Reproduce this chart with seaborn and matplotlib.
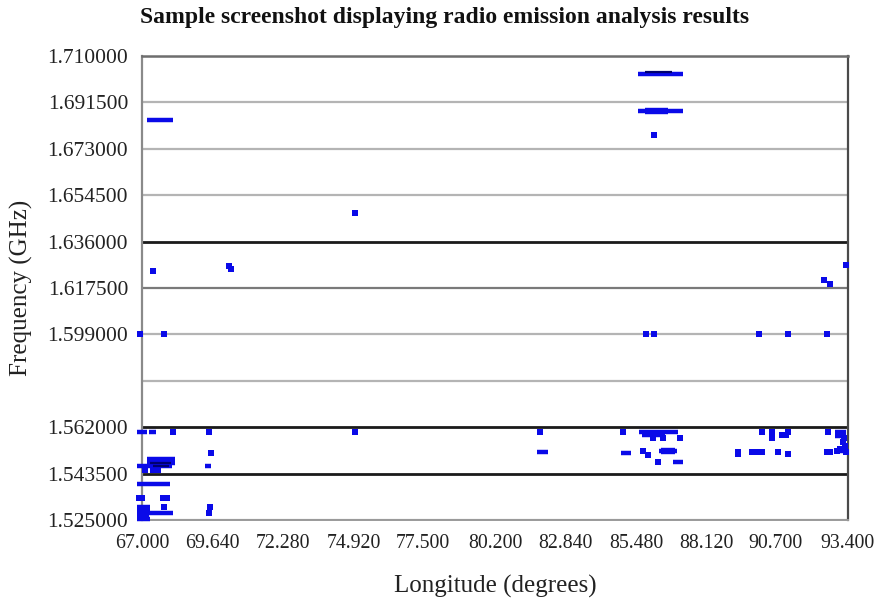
import matplotlib
matplotlib.use("Agg")
import matplotlib.pyplot as plt
import seaborn as sns
import pandas as pd

# ---- data -------------------------------------------------------------
x_ticks = [67.000, 69.640, 72.280, 74.920, 77.500, 80.200, 82.840, 85.480, 88.120, 90.700, 93.400]
y_ticks = [1.525, 1.5435, 1.562, 1.5805, 1.599, 1.6175, 1.636, 1.6545, 1.673, 1.6915, 1.710]
y_labels = ["1.525000", "1.543500", "1.562000", "", "1.599000", "1.617500",
            "1.636000", "1.654500", "1.673000", "1.691500", "1.710000"]

# horizontal emission tracks: start longitude, end longitude, frequency
seg_x0 = [67.19, 85.55, 85.55, 85.59, 85.70, 84.91, 86.33, 86.86, 81.77,
          67.19, 67.19, 66.81, 69.36, 66.81, 66.81, 66.81, 66.81, 66.81,
          66.81, 67.26, 92.91, 92.91, 92.91, 66.81, 66.81]
seg_x1 = [68.16, 87.23, 87.23, 87.04, 86.56, 85.28, 87.00, 87.23, 82.18,
          68.23, 68.23, 68.12, 69.58, 68.05, 67.30, 68.16, 67.19, 67.30,
          67.19, 67.52, 93.33, 93.33, 93.33, 67.30, 67.25]
seg_y = [1.6845, 1.7028, 1.6881, 1.5601, 1.5589, 1.5517, 1.5525, 1.5481, 1.5521,
         1.5493, 1.5479, 1.5465, 1.5465, 1.5394, 1.5302, 1.5278, 1.5262, 1.5254,
         1.5601, 1.5601, 1.5601, 1.5585, 1.5525, 1.5290, 1.5270]

# darker / thicker (overlapping) tracks
dark_x0 = [85.81, 67.40, 67.30]
dark_x1 = [86.82, 68.00, 68.10]
dark_y = [1.7036, 1.5465, 1.5479]
thick_x0 = [85.81, 86.40]
thick_x1 = [86.67, 86.95]
thick_y = [1.6881, 1.5525]

# isolated detections
dot_x = [74.97, 86.15, 67.41, 70.25, 70.33, 66.93, 67.82, 85.85, 86.15, 90.07,
         91.16, 92.62, 93.33, 92.50, 92.72, 68.16, 69.50, 74.97, 81.88, 85.00,
         69.58, 67.11, 67.40, 67.60, 66.88, 67.00, 67.80, 67.92, 67.83, 69.54,
         69.50, 86.11, 86.48, 87.12, 85.74, 85.92, 86.30, 90.19, 90.56, 91.16,
         92.65, 90.56, 90.93, 91.10, 89.29, 89.29, 89.81, 90.04, 90.20, 90.78,
         91.16, 92.62, 92.74, 93.10, 93.20, 93.25, 93.20, 93.30, 93.10, 93.00,
         93.33]
dot_y = [1.6474, 1.6785, 1.6243, 1.6263, 1.6251, 1.5990, 1.5990, 1.5990, 1.5990, 1.5990,
         1.5990, 1.5990, 1.6267, 1.6207, 1.6191, 1.5601, 1.5601, 1.5601, 1.5601, 1.5601,
         1.5517, 1.5449, 1.5449, 1.5449, 1.5338, 1.5338, 1.5338, 1.5338, 1.5302, 1.5302,
         1.5278, 1.5577, 1.5577, 1.5577, 1.5525, 1.5509, 1.5481, 1.5601, 1.5601, 1.5601,
         1.5601, 1.5577, 1.5589, 1.5589, 1.5523, 1.5513, 1.5521, 1.5521, 1.5521, 1.5521,
         1.5513, 1.5521, 1.5521, 1.5597, 1.5589, 1.5577, 1.5561, 1.5545, 1.5533, 1.5525,
         1.5521]

# ---- plot -------------------------------------------------------------
sns.set_theme(style="white")
plt.rcParams["font.family"] = ["Liberation Serif", "DejaVu Serif"]

fig = plt.figure(figsize=(8.75, 6.01), dpi=100)
ax = fig.add_axes([0.1623, 0.1348, 0.969 - 0.1623, 0.9068 - 0.1348])

BLUE = "#0a0ae8"
NAVY = "#000070"

ax.hlines(seg_y, seg_x0, seg_x1, colors=BLUE, linewidth=3.2, clip_on=False, zorder=3)
ax.hlines(thick_y, thick_x0, thick_x1, colors=BLUE, linewidth=4.6, clip_on=False, zorder=3)
ax.hlines(dark_y, dark_x0, dark_x1, colors=NAVY, linewidth=1.6, clip_on=False, zorder=4)

dots = pd.DataFrame({"lon": dot_x, "freq": dot_y})
sns.scatterplot(data=dots, x="lon", y="freq", ax=ax, marker="s", s=15,
                color=BLUE, linewidth=0, clip_on=False, zorder=3)

ax.set_xlim(67.0, 93.4)
ax.set_ylim(1.525, 1.710)
ax.set_xticks(x_ticks)
ax.set_xticklabels([f"{v:.3f}" for v in x_ticks], fontsize=14.3)
ax.set_yticks(y_ticks)
ax.set_yticklabels(y_labels, fontsize=15.5)

ax.grid(axis="y", color="#b4b4b4", linewidth=1.6, zorder=0)
ax.grid(axis="x", visible=False)
ax.set_axisbelow(True)
for i, gl in enumerate(ax.yaxis.get_gridlines()):
    if y_ticks[i] in (1.636, 1.562, 1.5435):
        gl.set_color("#1a1a1a")
        gl.set_linewidth(2.0)
    elif y_ticks[i] == 1.6175:
        gl.set_color("#7a7a7a")

ax.tick_params(axis="x", direction="in", length=5, width=1.5, color="#222222",
               pad=10, labelcolor="#222222")
ax.tick_params(axis="y", direction="in", length=3, width=1.2, color="#444444",
               pad=10, labelcolor="#222222")

for side, col, lw in (("left", "#8a8a8a", 1.6), ("top", "#6e6e6e", 1.8),
                      ("right", "#4a4a4a", 1.6), ("bottom", "#9a9a9a", 1.4)):
    ax.spines[side].set_visible(True)
    ax.spines[side].set_color(col)
    ax.spines[side].set_linewidth(lw)

ax.set_xlabel("Longitude (degrees)", fontsize=18, color="#222222", labelpad=16)
ax.set_ylabel("Frequency (GHz)", fontsize=18, color="#222222", labelpad=10)
fig.suptitle("Sample screenshot displaying radio emission analysis results",
             fontsize=17, fontweight="bold", x=0.508, y=0.988, color="#111111")

fig.savefig("out.png", dpi=100, facecolor="white")
